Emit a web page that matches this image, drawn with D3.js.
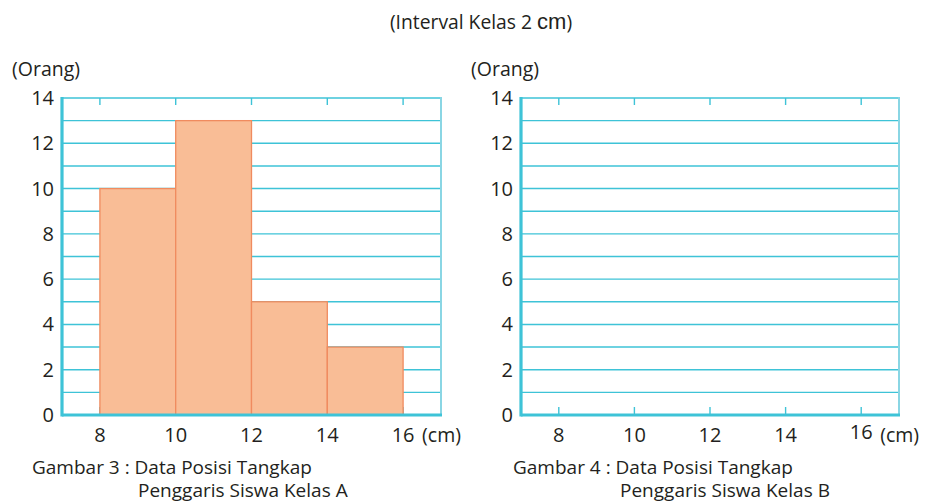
<!DOCTYPE html>
<html><head><meta charset="utf-8">
<script src="https://cdn.jsdelivr.net/npm/d3@7"></script>
<style>body{margin:0;background:#fff}svg{display:block}text{font-family:"Open Sans",sans-serif;fill:#231f20}</style>
</head><body>
<svg id="c" width="927" height="503"></svg>
<script>
const binStartsA = [8, 10, 12, 14];
const binWidth = 2;
const countsA = [10, 13, 5, 3];
const countsB = [];
const xTicks = [8, 10, 12, 14, 16];
const yTicks = [0, 2, 4, 6, 8, 10, 12, 14];
const gridValues = [1,2,3,4,5,6,7,8,9,10,11,12,13];
const titleParts = ["(Interval Kelas 2 ", "cm", ")"];
const captionsA = ["Gambar 3 : Data Posisi Tangkap", "Penggaris Siswa Kelas A"];
const captionsB = ["Gambar 4 : Data Posisi Tangkap", "Penggaris Siswa Kelas B"];

const svg = d3.select("#c");
const cyan = "#3ec3d7", light = "#8ad6e4";

const t = svg.append("text").attr("x", 481).attr("y", 29).attr("text-anchor","middle")
  .attr("font-size", 19.3);
t.append("tspan").text(titleParts[0]);
t.append("tspan").style("font-family", "'Liberation Sans',Arial,sans-serif").attr("font-size", 22).text(titleParts[1]);
t.append("tspan").text(titleParts[2]);

function panel(x0, x1, counts, caps, capX1, capX2, sixteenDy) {
  const x = d3.scaleLinear().domain([7, 17]).range([x0, x1]);
  const y = d3.scaleLinear().domain([0, 14]).range([415, 98]);
  const g = svg.append("g");
  g.selectAll(".grid").data(gridValues).join("line")
    .attr("x1", x0).attr("x2", x1).attr("y1", d=>y(d)).attr("y2", d=>y(d))
    .attr("stroke", cyan).attr("stroke-width", 1.4);
  g.append("line").attr("x1", x0).attr("x2", x1).attr("y1", y(14)).attr("y2", y(14))
    .attr("stroke", cyan).attr("stroke-width", 1.6);
  g.selectAll(".tt").data(xTicks).join("line")
    .attr("x1", d=>x(d)).attr("x2", d=>x(d)).attr("y1", y(14)).attr("y2", y(14)+7)
    .attr("stroke", cyan).attr("stroke-width", 1.4);
  g.selectAll(".bt").data(xTicks).join("line")
    .attr("x1", d=>x(d)).attr("x2", d=>x(d)).attr("y1", y(0)).attr("y2", y(0)-8)
    .attr("stroke", cyan).attr("stroke-width", 1.4);
  g.selectAll(".bar").data(counts).join("rect")
    .attr("x", (d,i)=>x(binStartsA[i])).attr("width", (d,i)=>x(binStartsA[i]+binWidth)-x(binStartsA[i]))
    .attr("y", d=>y(d)).attr("height", d=>y(0)-y(d))
    .attr("fill", "#f9bd96").attr("stroke", "#f08b5f").attr("stroke-width", 1.3);
  g.append("line").attr("x1", x1).attr("x2", x1).attr("y1", y(14)-1).attr("y2", y(0))
    .attr("stroke", light).attr("stroke-width", 2);
  g.append("line").attr("x1", x0).attr("x2", x0).attr("y1", y(14)-1).attr("y2", y(0)+1.5)
    .attr("stroke", cyan).attr("stroke-width", 3.2);
  g.append("line").attr("x1", x0).attr("x2", x1+1).attr("y1", y(0)).attr("y2", y(0))
    .attr("stroke", cyan).attr("stroke-width", 3.2);
  g.selectAll(".yl").data(yTicks).join("text")
    .attr("x", x0 - 8).attr("y", d=>y(d)+7).attr("text-anchor","end")
    .attr("font-size", 20).text(d=>d);
  g.selectAll(".xl").data(xTicks).join("text")
    .attr("x", d=>x(d)).attr("y", d=> d===16 ? 442+sixteenDy : 442).attr("text-anchor","middle")
    .attr("font-size", 20).text(d=>d);
  g.append("text").attr("x", x(16)+19).attr("y", 442).attr("font-size", 19.5).text("(cm)");
  g.append("text").attr("x", x0-50).attr("y", 76).attr("font-size", 19.5).text("(Orang)");
  g.append("text").attr("x", capX1).attr("y", 474).attr("font-size", 19).text(caps[0]);
  g.append("text").attr("x", capX2).attr("y", 497).attr("font-size", 19).text(caps[1]);
}
panel(62, 441, countsA, captionsA, 32, 138, 0);
panel(521, 899, countsB, captionsB, 513, 620, -3);
</script>
</body></html>
